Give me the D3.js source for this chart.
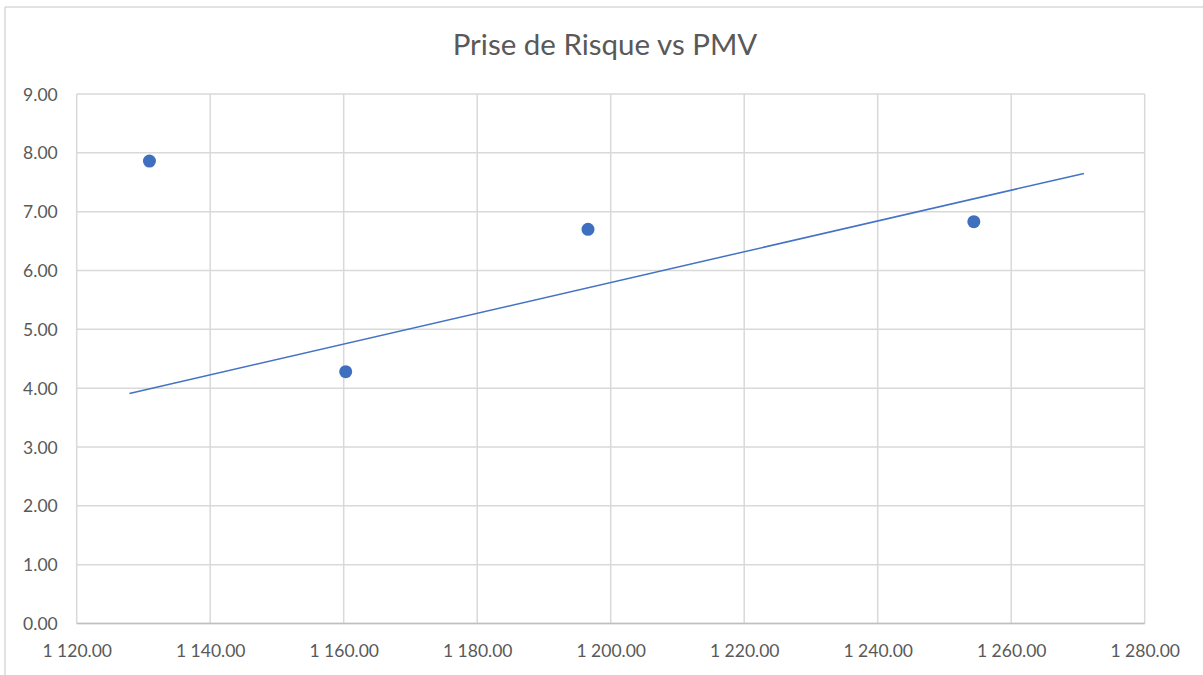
<!DOCTYPE html>
<html>
<head>
<meta charset="utf-8">
<script src="https://cdn.jsdelivr.net/npm/d3@7"></script>
<style>
  body { margin: 0; background: #fff; }
  text { font-family: Lato, "Liberation Sans", sans-serif; fill: #595959; }
</style>
</head>
<body>
<div id="chart"></div>
<script>
// Data
let pmv = [1130.9, 1160.3, 1196.6, 1254.4];
let risque = [7.86, 4.28, 6.70, 6.83];
// linear trendline endpoints
let trendX = [1127.9, 1270.9];
let trendY = [3.91, 7.65];
let xTicks = [1120, 1140, 1160, 1180, 1200, 1220, 1240, 1260, 1280];
let yTicks = [0, 1, 2, 3, 4, 5, 6, 7, 8, 9];
let title = "Prise de Risque vs PMV";

let W = 1203, H = 675;
let plot = { left: 76.7, right: 1144.7, top: 94, bottom: 623.5 };

let svg = d3.select("#chart")
  .append("svg")
  .attr("width", W)
  .attr("height", H);

// chart border (top and left visible)
svg.append("line")
  .attr("x1", 5).attr("x2", W).attr("y1", 7).attr("y2", 7)
  .attr("stroke", "#d9d9d9").attr("stroke-width", 1.5);
svg.append("line")
  .attr("x1", 5).attr("x2", 5).attr("y1", 7).attr("y2", H)
  .attr("stroke", "#d9d9d9").attr("stroke-width", 1.5);

let x = d3.scaleLinear()
  .domain([1120, 1280])
  .range([plot.left, plot.right]);

let y = d3.scaleLinear()
  .domain([0, 9])
  .range([plot.bottom, plot.top]);

let fmtX = v => d3.format(",.2f")(v).replace(/,/g, " ");

// gridlines
svg.append("g")
  .selectAll("line")
  .data(yTicks)
  .join("line")
  .attr("x1", plot.left).attr("x2", plot.right)
  .attr("y1", d => y(d)).attr("y2", d => y(d))
  .attr("stroke", "#d9d9d9").attr("stroke-width", 1.5);

svg.append("g")
  .selectAll("line")
  .data(xTicks)
  .join("line")
  .attr("x1", d => x(d)).attr("x2", d => x(d))
  .attr("y1", plot.top).attr("y2", plot.bottom)
  .attr("stroke", "#d9d9d9").attr("stroke-width", 1.5);

// bottom axis line
svg.append("line")
  .attr("x1", plot.left).attr("x2", plot.right)
  .attr("y1", plot.bottom).attr("y2", plot.bottom)
  .attr("stroke", "#bfbfbf").attr("stroke-width", 1.5);

// Y labels
let yAxis = svg.append("g")
  .attr("transform", "translate(" + (plot.left - 19) + ",0)")
  .call(d3.axisLeft(y).tickValues(yTicks).tickFormat(d3.format(".2f")).tickSize(0));
yAxis.select(".domain").remove();
yAxis.selectAll("text")
  .attr("x", 0)
  .attr("dy", "0.35em")
  .style("font-size", "17.5px")
  .style("font-family", "Lato, sans-serif")
  .attr("fill", "#595959");

// X labels
let xAxis = svg.append("g")
  .attr("transform", "translate(0," + plot.bottom + ")")
  .call(d3.axisBottom(x).tickValues(xTicks).tickFormat(fmtX).tickSize(0));
xAxis.select(".domain").remove();
xAxis.selectAll("text")
  .attr("y", 33)
  .attr("dy", 0)
  .style("font-size", "17.5px")
  .style("font-family", "Lato, sans-serif")
  .attr("fill", "#595959");

// title
svg.append("text")
  .attr("x", 605)
  .attr("y", 55)
  .attr("text-anchor", "middle")
  .style("font-size", "29.5px")
  .text(title);

// trendline
svg.append("line")
  .attr("x1", x(trendX[0])).attr("y1", y(trendY[0]))
  .attr("x2", x(trendX[1])).attr("y2", y(trendY[1]))
  .attr("stroke", "#4472c4")
  .attr("stroke-width", 1.5);

// points
svg.append("g")
  .selectAll("circle")
  .data(pmv)
  .join("circle")
  .attr("cx", d => x(d))
  .attr("cy", (d, i) => y(risque[i]))
  .attr("r", 6.5)
  .attr("fill", "#3f70bf");
</script>
</body>
</html>
